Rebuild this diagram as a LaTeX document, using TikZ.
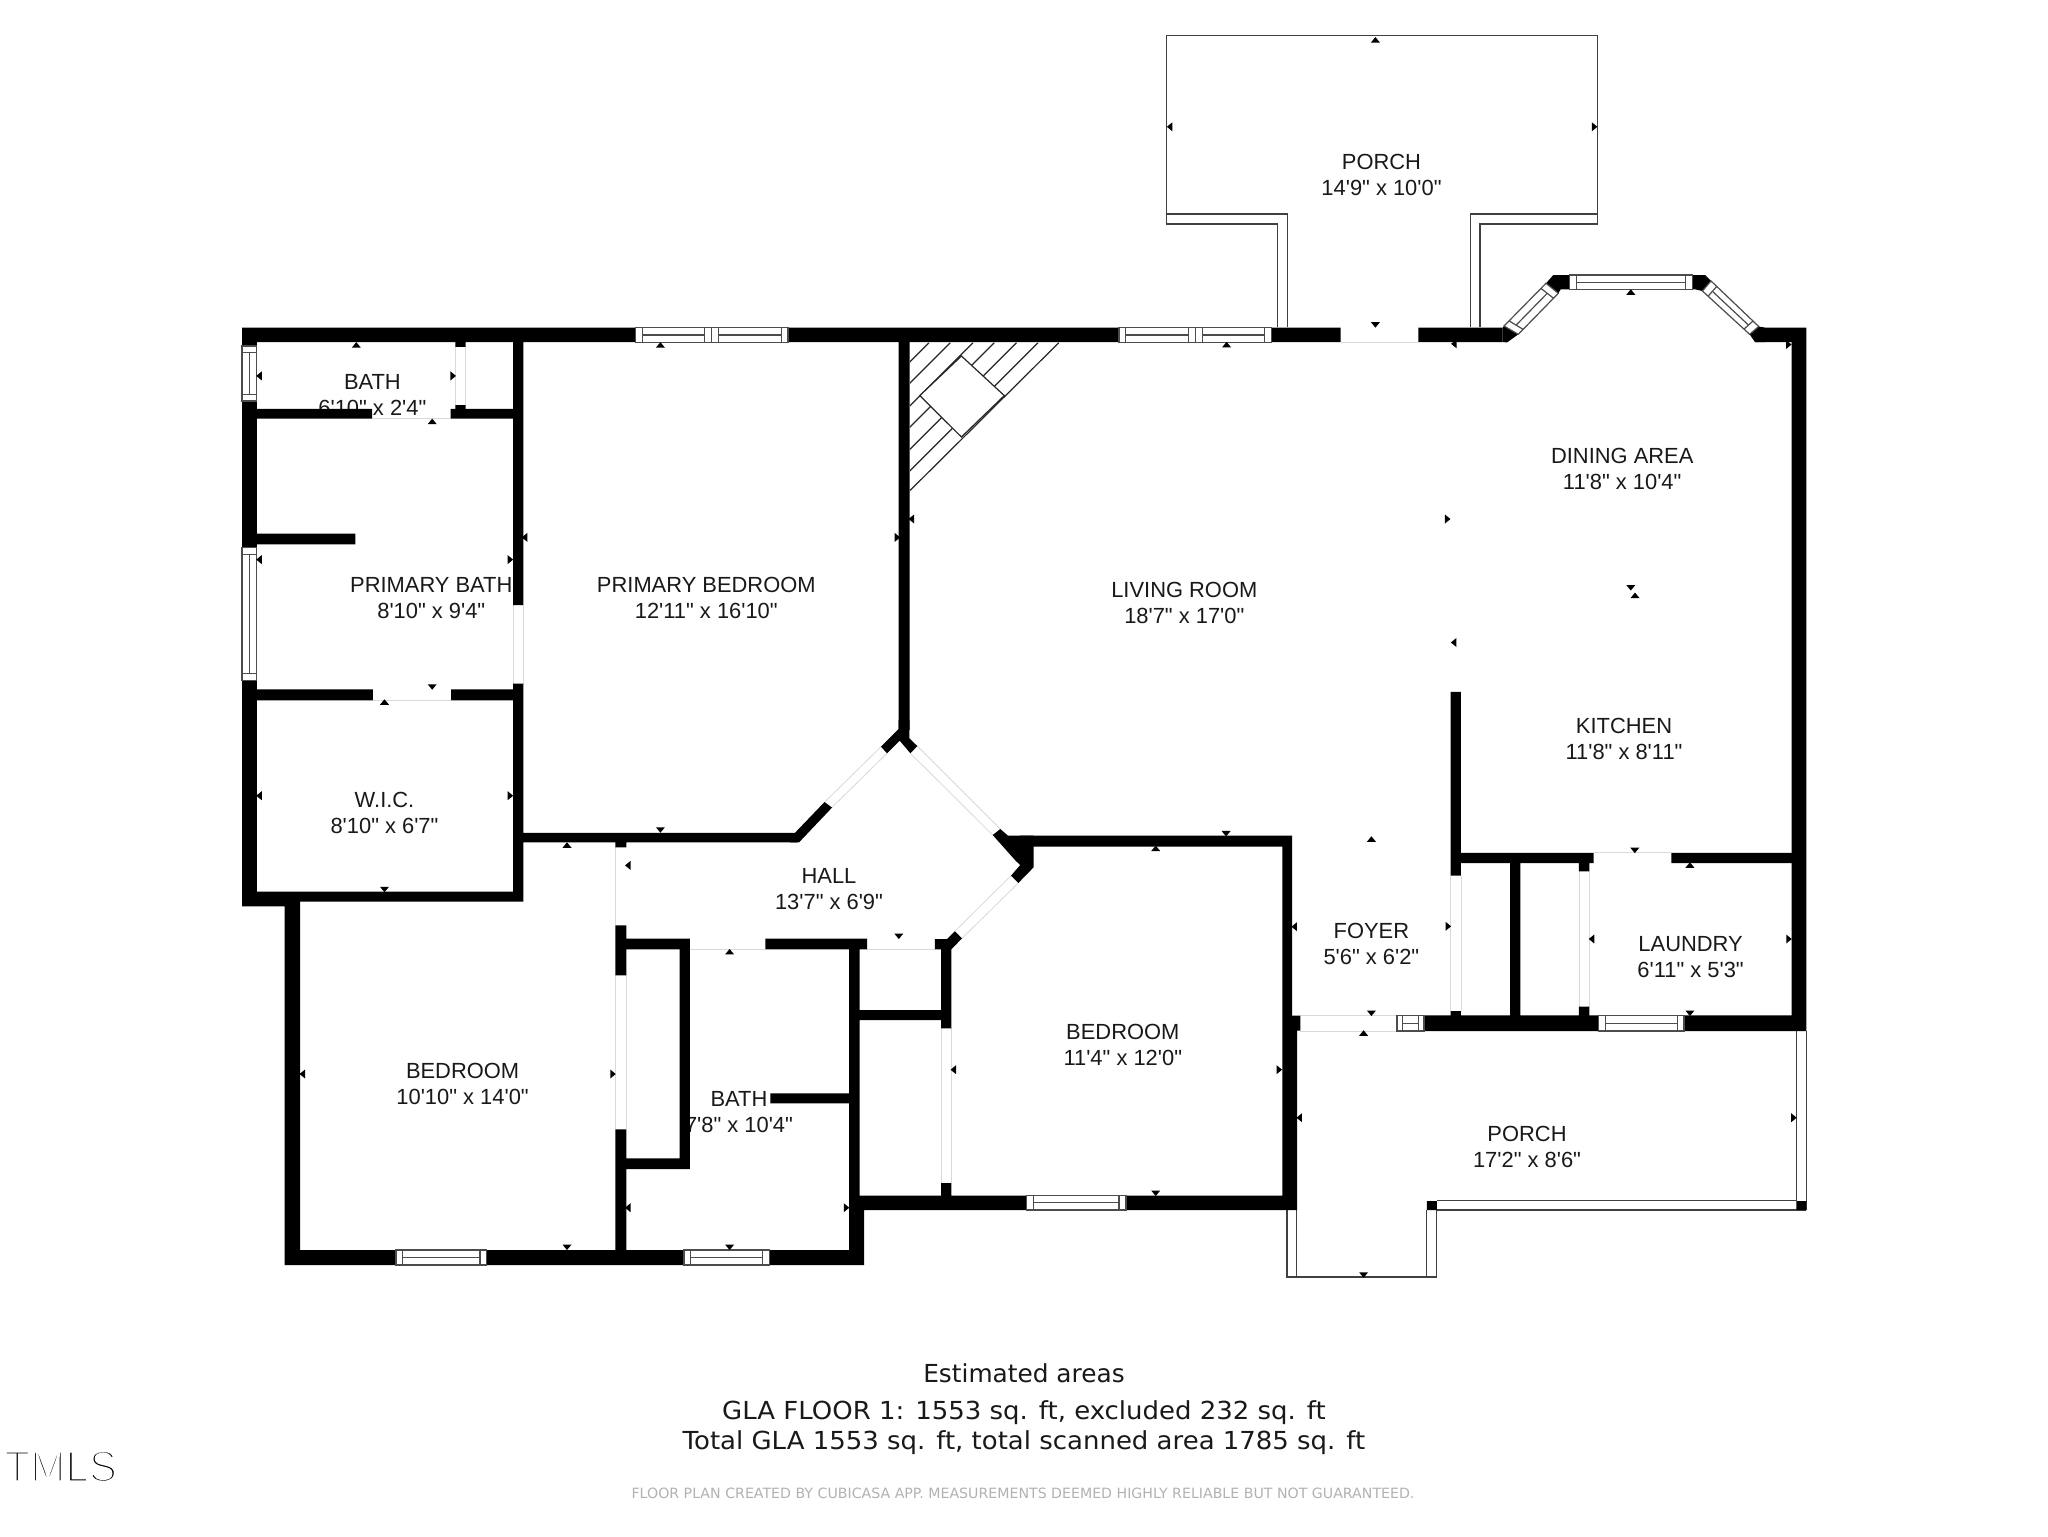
\documentclass[tikz,border=0pt]{standalone}
\usepackage{fontspec}
\setmainfont{Liberation Sans}
\newfontfamily\labelfont{Liberation Sans}
\newfontfamily\footfont{DejaVu Sans}
\newfontfamily\footwide[FakeStretch=1.047]{DejaVu Sans}
\newfontfamily\logofont[FakeStretch=0.96]{Liberation Sans}
\usetikzlibrary{calc}
\tikzset{
  roomlabel/.style={font=\labelfont\fontsize{10.95}{13}\selectfont,align=center,inner sep=0pt,text=black!90},
  footline/.style={font=\footfont\fontsize{12.4}{14}\selectfont,inner sep=0pt,text=black!90},
  footlinewide/.style={font=\footwide\fontsize{12.4}{14}\selectfont,inner sep=0pt,text=black!90},
  fineprint/.style={font=\footfont\fontsize{7.08}{9}\selectfont,inner sep=0pt,text=black!30},
  wallfill/.style={fill=black},
  thinline/.style={draw=black!75,line width=0.6pt},
  winline/.style={draw=black!70,line width=0.6pt},
  doorline/.style={draw=black!15,line width=0.4pt},
  hatchline/.style={draw=black!85,line width=0.6pt},
  tick/.style={fill=black}
}
\newcommand\mywin[5]{%
  \fill[white] (#1)--(#2)--(#3)--(#4)--cycle;
  \draw[winline] (#1)--(#2)--(#3)--(#4)--cycle;
  \draw[winline] ($(#1)!#5!(#2)$)--($(#4)!#5!(#3)$);
  \draw[winline] ($(#2)!#5!(#1)$)--($(#3)!#5!(#4)$);
  \draw[winline] ($($(#1)!.5!(#4)$)!#5!($(#2)!.5!(#3)$)$)--($($(#2)!.5!(#3)$)!#5!($(#1)!.5!(#4)$)$);
}
\newcommand\hwin[5]{\mywin{#1,#3}{#2,#3}{#2,#4}{#1,#4}{#5}}
\newcommand\vwin[5]{\mywin{#1,#3}{#1,#4}{#2,#4}{#2,#3}{#5}}
\begin{document}
\begin{tikzpicture}[x=0.5pt,y=-0.5pt]
\useasboundingbox (0,0) rectangle (2048,1536);
\fill[white] (0,0) rectangle (2048,1536);

% room labels (walls overprint some of them, as in the plan)
\node[roomlabel] (lbath1) at (372.4,395) {BATH\\6'10" x 2'4"};
\node[roomlabel] (lpbath) at (431.3,598.4) {PRIMARY BATH\\8'10" x 9'4"};
\node[roomlabel] (lpbed) at (706.3,598.4) {PRIMARY BEDROOM\\12'11" x 16'10"};
\node[roomlabel] (lwic) at (384.5,813.2) {W.I.C.\\8'10" x 6'7"};
\node[roomlabel] (lhall) at (829,889) {HALL\\13'7" x 6'9"};
\node[roomlabel] (lbed1) at (462.6,1083.7) {BEDROOM\\10'10" x 14'0"};
\node[roomlabel] (lbath2) at (739,1112.2) {BATH\\7'8" x 10'4"};
\node[roomlabel] (lbed2) at (1122.8,1045.3) {BEDROOM\\11'4" x 12'0"};
\node[roomlabel] (lfoyer) at (1371.4,943.8) {FOYER\\5'6" x 6'2"};
\node[roomlabel] (llaundry) at (1690.6,956.9) {LAUNDRY\\6'11" x 5'3"};
\node[roomlabel] (lkitchen) at (1624,738.7) {KITCHEN\\11'8" x 8'11"};
\node[roomlabel] (lporch2) at (1527,1147) {PORCH\\17'2" x 8'6"};
\node[roomlabel] (lporch1) at (1381.5,174.6) {PORCH\\14'9" x 10'0"};
\node[roomlabel] (ldining) at (1622.2,469.3) {DINING AREA\\11'8" x 10'4"};
\node[roomlabel] (lliving) at (1184.3,602.5) {LIVING ROOM\\18'7" x 17'0"};

% upper porch railing
\draw[thinline] (1277.4,327)--(1277.4,224)--(1166.6,224)--(1166.6,35.8)--(1597.7,35.8)--(1597.7,224)--(1480,224)--(1480,327);
\draw[thinline] (1287.2,327)--(1287.2,214)--(1166.6,214);
\draw[thinline] (1470.3,327)--(1470.3,214)--(1597.7,214);

% lower porch railing
\draw[thinline] (1796.4,1031)--(1796.4,1201);
\draw[thinline] (1806.4,1031)--(1806.4,1210);
\draw[thinline] (1436.8,1200.6)--(1796.4,1200.6);
\draw[thinline] (1436.8,1210)--(1806.4,1210);
\draw[thinline] (1287,1210)--(1287,1277)--(1436.8,1277)--(1436.8,1210);
\draw[thinline] (1296.6,1210)--(1296.6,1277);
\draw[thinline] (1426.8,1210)--(1426.8,1277);

% fireplace
\begin{scope}
\clip (910,342.7)--(1058.8,342.7)--(910,490.5)--cycle;
\foreach \c in {1271.7,1293,1315.7,1337,1359.3,1380.7}
  \draw[hatchline] ({\c-342.7},342.7)--({\c-500},500);
\end{scope}
\draw[hatchline] (1058.8,342.7)--(910,490.5);
\filldraw[fill=white,hatchline] (961.4,356)--(1004.3,395.6)--(961.4,437)--(919.8,395.6)--cycle;

% door outlines
\draw[doorline] (455.4,346.8)--(455.4,405) (465.7,346.8)--(465.7,405);
\draw[doorline] (372,418.7)--(450.5,418.7);
\draw[doorline] (513,605)--(513,683.6) (523.3,605)--(523.3,683.6);
\draw[doorline] (372.9,700.4)--(451,700.4);
\draw[doorline] (1340.5,342.2)--(1418.3,342.2);
\draw[doorline] (825,801.7)--(881,746.7) (832,807.3)--(887,753.3);
\draw[doorline] (917.3,746)--(1000.3,829) (910.4,753.3)--(992.7,835);
\draw[doorline] (954.8,931.3)--(1011,875.7) (962,938.3)--(1018.3,883);
\draw[doorline] (615.3,847.3)--(615.3,925.3) (615.3,975.3)--(615.3,1129.3) (626.4,975.3)--(626.4,1129.3);
\draw[doorline] (689.8,949.3)--(765.3,949.3) (867,949.3)--(934.9,949.3);
\draw[doorline] (941,1028.3)--(941,1183) (951.4,1028.3)--(951.4,1183);
\draw[doorline] (1450.5,875.7)--(1450.5,1011) (1460.9,875.7)--(1460.9,1011);
\draw[doorline] (1578.9,871.4)--(1578.9,1006.6) (1589.3,871.4)--(1589.3,1006.6);
\draw[doorline] (1593.7,852.8)--(1671.4,852.8);
\draw[doorline] (1300.4,1015.3)--(1396.9,1015.3) (1300.4,1031)--(1396.9,1031);

% walls
\fill[wallfill]
 (242,327.7) rectangle (635.4,342.2)
 (788,327.7) rectangle (1118.8,342.2)
 (1271.7,327.7) rectangle (1340.5,342.2)
 (1418.3,327.7) rectangle (1502.7,342.2)
 (1755,327.7) rectangle (1806.4,342.2)
 (242,327.7) rectangle (256.8,346)
 (242,401) rectangle (256.8,547.7)
 (242,680.5) rectangle (256.8,906.3)
 (256.8,408.8) rectangle (372,418.7)
 (450.5,408.8) rectangle (513,418.7)
 (455.4,342) rectangle (465.7,346.8)
 (455.4,405) rectangle (465.7,409)
 (513,342) rectangle (523.3,605)
 (513,683.6) rectangle (523.3,901.7)
 (256.8,533.6) rectangle (355.4,544.3)
 (256.8,689.3) rectangle (372.9,700.4)
 (451,689.3) rectangle (513,700.4)
 (242,891.7) rectangle (523.3,901.7)
 (242,901.7) rectangle (300,906.3)
 (284.5,901.7) rectangle (300,1265)
 (284.5,1250) rectangle (396,1265)
 (486.7,1250) rectangle (684,1265)
 (769.3,1250) rectangle (864,1265)
 (513,832.8) rectangle (797,842.4)
 (615.3,842.4) rectangle (626.4,847.3)
 (615.3,925.3) rectangle (626.4,975.3)
 (615.3,1129.3) rectangle (626.4,1250)
 (626.4,938.7) rectangle (689.8,949.3)
 (679.5,938.7) rectangle (689.8,1169)
 (626.4,1158.3) rectangle (689.8,1169)
 (765.3,938.7) rectangle (867,949.3)
 (849,949) rectangle (859.5,1210)
 (849,1195.7) rectangle (864,1265)
 (770.3,1093.3) rectangle (849,1103.3)
 (859.5,1010) rectangle (941,1020)
 (934.9,939) rectangle (951.4,949.3)
 (941,939) rectangle (951.4,1028.3)
 (941,1183) rectangle (951.4,1195.7)
 (849,1195.7) rectangle (1026.4,1210)
 (1125.9,1195.7) rectangle (1297,1210)
 (1020,835.7) rectangle (1292,846.7)
 (1282.4,835.7) rectangle (1292,1016)
 (1282.4,1015.7) rectangle (1297,1210)
 (1297,1015.7) rectangle (1300.4,1030.7)
 (898.5,342) rectangle (909.5,730)
 (1423.9,1015.3) rectangle (1598.5,1031)
 (1684,1015.3) rectangle (1806.4,1031)
 (1450.5,691.9) rectangle (1460.9,875.7)
 (1450.5,1011) rectangle (1460.9,1015.3)
 (1461,852.8) rectangle (1593.7,863)
 (1671.4,852.8) rectangle (1791.6,863)
 (1510,863) rectangle (1520.4,1015.3)
 (1578.9,863) rectangle (1589.3,871.4)
 (1578.9,1006.6) rectangle (1589.3,1015.3)
 (1791.6,327.7) rectangle (1806.4,1031)
 (1796.4,1201) rectangle (1806.4,1210)
 (1426.8,1201) rectangle (1436.8,1210);

% angled wall pieces
\fill[wallfill] (795,832.8)--(824.5,802)--(832,807.6)--(799,842.4)--(790,842.4)--cycle;
\fill[wallfill] (881,746.7)--(887,753.3)--(899.7,740.7)--(910.4,753.3)--(917.3,746)--(909.3,738.3)--(909.3,720)--(898.5,720)--(898.5,729)--cycle;
\fill[wallfill] (992.7,835)--(1000.3,829)--(1008,835.7)--(1033.6,835.7)--(1033.6,867.3)--(1018.3,883)--(1011,875.7)--(1020.2,865)--(1015.6,860.7)--cycle;
\fill[wallfill] (954.8,931.3)--(962,938.3)--(951.4,949.3)--(941,949.3)--(941,939)--(947,939)--cycle;
\fill[wallfill] (1553.3,275)--(1569.3,275)--(1569.3,289.3)--(1560.7,289.3)--(1558.3,293.3)--(1546,283.3)--cycle;
\fill[wallfill] (1692.7,275)--(1705,275)--(1711,281)--(1702.4,291)--(1695,289.3)--(1692.7,289.3)--cycle;
\fill[wallfill] (1502.7,327.7)--(1504,326)--(1518.3,334.3)--(1507.3,342.3)--(1502.7,342.2)--cycle;
\fill[wallfill] (1758.7,326.5)--(1749.6,334.3)--(1755,342.2)--(1765,342.2)--(1765,327.7)--cycle;

% windows
\hwin{635.4}{711.7}{327.7}{342.2}{0.09}
\hwin{711.7}{788}{327.7}{342.2}{0.09}
\hwin{1119}{1195.4}{327.7}{342.2}{0.09}
\hwin{1195.4}{1271.7}{327.7}{342.2}{0.09}
\hwin{1569.3}{1692.7}{275}{289.3}{0.06}
\mywin{1546,283.3}{1504,326}{1518.3,334.3}{1558.3,293.3}{0.12}
\mywin{1711,281}{1758.7,326.5}{1749.6,334.3}{1702.4,291}{0.12}
\vwin{242}{256.8}{346}{401}{0.12}
\vwin{242}{256.8}{547.7}{680.5}{0.05}
\hwin{396}{486.7}{1250}{1265}{0.074}
\hwin{684}{769.3}{1250}{1265}{0.08}
\hwin{1026.4}{1125.9}{1195.7}{1210}{0.07}
\hwin{1598.5}{1684}{1015.3}{1031}{0.08}
\hwin{1396.9}{1423.9}{1015.3}{1031}{0.2}

% dimension ticks
\foreach \x/\y in {356.3/344.9,660.4/344.9,432.2/421.4,384.5/702,567/845,1375.4/39.8,1226.6/344.6,1630.8/292,1635/595.3,1371.4/839,729.6/951.7,1155.7/848.3,1689.9/865,1363.6/1033}
  \fill[tick] (\x,\y) ++(-4.5,2.75) -- ++(9,0) -- ++(-4.5,-5.5) -- cycle;
\foreach \x/\y in {432.2/687,660.4/830,384.5/889.5,1375.4/324.9,1630.8/587.8,567/1247.3,729.6/1247.3,898.8/936.3,1226.1/833.7,1155.7/1193.3,1634.8/850.4,1371.4/1013.3,1689.9/1013.3,1363.6/1275}
  \fill[tick] (\x,\y) ++(-4.5,-2.75) -- ++(9,0) -- ++(-4.5,5.5) -- cycle;
\foreach \x/\y in {259/375.9,524.6/537.4,911.3/519,259/559.6,259/795.7,627.8/865.4,1169.6/126.8,1453.8/343.8,1453.6/642.5,302.3/1074,627.8/1207.7,1294.2/926.7,953.3/1069.7,1299.2/1117.7,1591.5/939}
  \fill[tick] (\x,\y) ++(2.75,-4.5) -- ++(0,9) -- ++(-5.5,-4.5) -- cycle;
\foreach \x/\y in {453.2/375.9,897.4/537.4,510.4/559.6,510.4/795.7,1594.6/126.8,1788.8/344.5,1447.7/519,613/1074,846.5/1207.7,1279.3/1069.7,1448.3/926.3,1789/939,1793.9/1117.7}
  \fill[tick] (\x,\y) ++(-2.75,-4.5) -- ++(0,9) -- ++(5.5,-4.5) -- cycle;

% footer
\node[footline] (fest) at (1024,1373) {Estimated areas};
\node[footlinewide] (fgla) at (1024,1412.7) {GLA FLOOR 1: 1553 sq. ft, excluded 232 sq. ft};
\node[footlinewide] (ftot) at (1024,1442.7) {Total GLA 1553 sq. ft, total scanned area 1785 sq. ft};
\node[fineprint] (ffine) at (1023,1493) {FLOOR PLAN CREATED BY CUBICASA APP. MEASUREMENTS DEEMED HIGHLY RELIABLE BUT NOT GUARANTEED.};
\node[inner sep=0pt,anchor=base west,text=black] (flogo) at (4,1481.5) {\special{pdf:code q 2 Tr 1 1 1 RG 1.25 w}\logofont\fontsize{22}{24}\selectfont TMLS\special{pdf:code Q}};
\end{tikzpicture}
\end{document}
